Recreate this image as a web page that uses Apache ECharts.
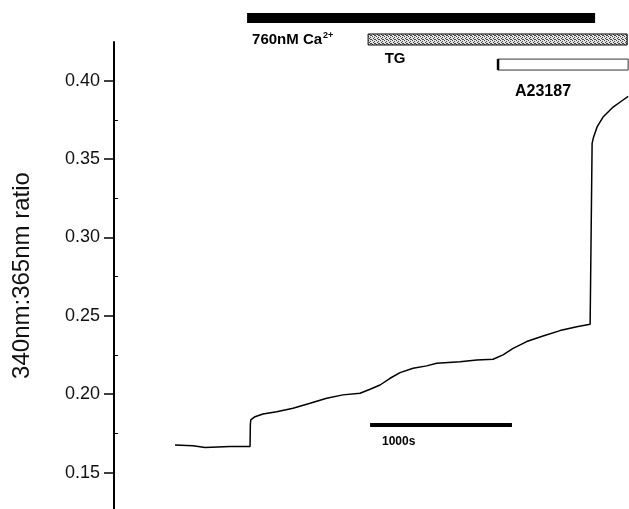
<!DOCTYPE html>
<html>
<head>
<meta charset="utf-8">
<script src="https://cdn.jsdelivr.net/npm/echarts@6/dist/echarts.min.js"></script>
<style>
html, body { margin: 0; padding: 0; background: #fff; }
#chart { width: 629px; height: 509px; }
</style>
</head>
<body>
<div id="chart"></div>
<script>
// trace, time in s (0 = start of recording), 340/365 ratio
var traceTime = [0, 127, 212, 388, 529, 531, 534, 564, 620, 717, 832, 952, 1069, 1184, 1304, 1375, 1445, 1516, 1586, 1678, 1774, 1845, 2009, 2127, 2242, 2312, 2383, 2479, 2594, 2714, 2832, 2926, 2938, 2940, 2950, 2975, 3017, 3088, 3158, 3194];
var traceRatio = [0.1677, 0.1672, 0.1660, 0.1666, 0.1666, 0.1804, 0.1836, 0.1857, 0.1874, 0.1889, 0.1911, 0.1943, 0.1975, 0.1996, 0.2006, 0.2032, 0.2059, 0.2102, 0.2138, 0.2166, 0.2181, 0.2198, 0.2208, 0.2219, 0.2223, 0.2251, 0.2293, 0.2336, 0.2372, 0.2406, 0.2431, 0.2446, 0.2446, 0.3600, 0.3640, 0.3705, 0.3768, 0.3832, 0.3877, 0.3900];

var yTicks = [0.15, 0.20, 0.25, 0.30, 0.35, 0.40];
var yMinorTicks = [0.175, 0.225, 0.275, 0.325, 0.375];

// treatment bars and the 1000 s scale bar
var barKind = ['solid', 'hatch', 'open', 'solid'];
var barStart = [508, 1361, 2277, 1375];
var barEnd = [2961, 3187, 3194, 2375];
var barHigh = [0.4432, 0.4298, 0.4138, 0.1817];
var barLow = [0.4368, 0.4228, 0.4068, 0.1791];

var labelText = ['760nM Ca{sup|2+}', 'TG', 'A23187', '1000s'];
var labelTime = [543, 1551, 2594, 1459];
var labelRatio = [0.4262, 0.4138, 0.3928, 0.1696];
var labelAlign = ['left', 'center', 'center', 'left'];
var labelSize = [15, 15, 16, 12];

var FONT = '"Liberation Sans", Arial, sans-serif';

// grey stipple for the TG bar
var hatch = document.createElement('canvas');
hatch.width = 4; hatch.height = 4;
var hc = hatch.getContext('2d');
hc.fillStyle = '#e4e4e4';
hc.fillRect(0, 0, 4, 4);
hc.fillStyle = '#444';
hc.fillRect(0, 0, 1, 1);
hc.fillRect(2, 1, 1, 1);
hc.fillRect(1, 2, 1, 1);
hc.fillRect(3, 3, 1, 1);
hc.fillRect(2, 3, 1, 1);

var chart = echarts.init(document.getElementById('chart'));

chart.setOption({
    animation: false,
    grid: { left: 114, right: 0, top: 42, bottom: 0, outerBoundsMode: 'none' },
    xAxis: { type: 'value', min: -430, max: 3200, show: false },
    yAxis: [{
        type: 'value',
        min: 0.1268,
        max: 0.4247,
        position: 'left',
        name: '340nm:365nm ratio',
        nameLocation: 'middle',
        nameGap: 80,
        nameTextStyle: { fontFamily: FONT, fontSize: 24, color: '#111' },
        axisLine: { show: true, onZero: false, lineStyle: { color: '#000', width: 2 } },
        axisTick: { show: true, length: 10, customValues: yTicks, lineStyle: { color: '#000', width: 1.5 } },
        axisLabel: {
            customValues: yTicks,
            formatter: function (v) { return v.toFixed(2); },
            fontFamily: FONT, fontSize: 18, color: '#111', margin: 14
        },
        splitLine: { show: false }
    }, {
        type: 'value',
        min: 0.1268,
        max: 0.4247,
        position: 'left',
        axisLine: { show: false, onZero: false },
        axisTick: { show: true, inside: true, length: 4, customValues: yMinorTicks, lineStyle: { color: '#000', width: 1 } },
        axisLabel: { show: false },
        splitLine: { show: false }
    }],
    series: [{
        type: 'line',
        data: traceTime.map(function (t, i) { return [t, traceRatio[i]]; }),
        showSymbol: false,
        lineStyle: { color: '#000', width: 1.5 }
    }, {
        type: 'custom',
        clip: false,
        encode: { x: [0, 1], y: [2, 3] },
        data: barStart.map(function (s, i) { return [s, barEnd[i], barHigh[i], barLow[i]]; }),
        renderItem: function (params, api) {
            var kind = barKind[params.dataIndex];
            var p0 = api.coord([api.value(0), api.value(2)]);
            var p1 = api.coord([api.value(1), api.value(3)]);
            var shape = { x: p0[0], y: p0[1], width: p1[0] - p0[0], height: p1[1] - p0[1] };
            if (kind === 'solid') {
                return { type: 'rect', shape: shape, style: { fill: '#000' } };
            }
            if (kind === 'hatch') {
                return { type: 'rect', shape: shape, style: { fill: { image: hatch, repeat: 'repeat' }, stroke: '#000', lineWidth: 1 } };
            }
            return {
                type: 'group',
                children: [
                    { type: 'rect', shape: shape, style: { fill: '#fff', stroke: '#333', lineWidth: 1 } },
                    { type: 'line', shape: { x1: p0[0], y1: p0[1], x2: p0[0], y2: p1[1] }, style: { stroke: '#000', lineWidth: 2.5 } }
                ]
            };
        }
    }, {
        type: 'custom',
        clip: false,
        data: labelTime.map(function (t, i) { return [t, labelRatio[i]]; }),
        renderItem: function (params, api) {
            var i = params.dataIndex;
            var p = api.coord([api.value(0), api.value(1)]);
            return {
                type: 'text',
                x: p[0],
                y: p[1],
                style: {
                    text: labelText[i],
                    fontFamily: FONT,
                    fontWeight: 'bold',
                    fontSize: labelSize[i],
                    fill: '#000',
                    align: labelAlign[i],
                    verticalAlign: 'middle',
                    rich: {
                        sup: { fontSize: 9, fontWeight: 'bold', fontFamily: FONT, verticalAlign: 'top', padding: [0, 0, 8, 1] }
                    }
                }
            };
        }
    }]
});
</script>
</body>
</html>
